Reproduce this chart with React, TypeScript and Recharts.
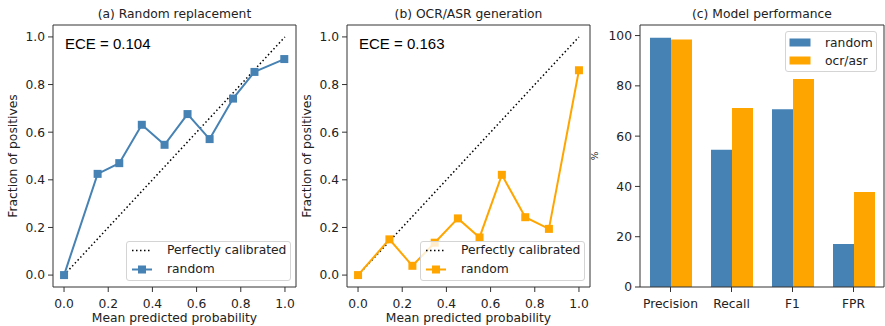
import {
  ComposedChart,
  Line,
  Bar,
  XAxis,
  YAxis,
  Label,
} from 'recharts';

const probTicks = [0, 0.2, 0.4, 0.6, 0.8, 1.0];
const diagonalPts = [0, 1];

const randomReplacementX = [0.0, 0.152, 0.25, 0.352, 0.455, 0.559, 0.659, 0.765, 0.862, 0.997];
const randomReplacementY = [0.0, 0.425, 0.47, 0.631, 0.547, 0.676, 0.571, 0.741, 0.853, 0.907];

const ocrAsrX = [0.0, 0.142, 0.246, 0.347, 0.452, 0.55, 0.651, 0.757, 0.864, 1.0];
const ocrAsrY = [0.0, 0.15, 0.039, 0.136, 0.238, 0.158, 0.421, 0.243, 0.194, 0.86];

const metrics = ['Precision', 'Recall', 'F1', 'FPR'];
const randomScores = [99.1, 54.6, 70.7, 17.1];
const ocrAsrScores = [98.4, 71.2, 82.7, 37.8];
const percentTicks = [0, 20, 40, 60, 80, 100];

const FONT = '"DejaVu Sans", sans-serif';
const TXT = '#222';
const FRAME = '#333';
const BLUE = '#4682B4';
const ORANGE = '#FFA500';
const FS = 12.3;

const tickStyle = { fill: TXT, fontSize: FS, fontFamily: FONT };

const squareDot = (color: string) => (props: any) => {
  if (props.cx == null || props.cy == null) return <g key={`e-${props.index}`} />;
  return (
    <rect
      key={`sq-${props.index}`}
      x={props.cx - 4}
      y={props.cy - 4}
      width={8}
      height={8}
      fill={color}
    />
  );
};

function CalibLegend({ color }: { color: string }) {
  const row = (top: number) => ({
    position: 'absolute' as const,
    left: 0,
    top,
    height: 19,
    display: 'flex',
    alignItems: 'center',
  });
  return (
    <div
      style={{
        position: 'absolute',
        left: 126,
        top: 241,
        width: 165,
        height: 40,
        boxSizing: 'border-box',
        border: '1px solid #d4d4d4',
        borderRadius: 3,
        background: 'rgba(255,255,255,0.8)',
        fontFamily: FONT,
        fontSize: FS,
        color: TXT,
      }}
    >
      <div style={row(-1.5)}>
        <svg width={40} height={19}>
          <line x1={5} x2={25} y1={9.5} y2={9.5} stroke="#000" strokeWidth={1.5} strokeDasharray="1.5 2.5" />
        </svg>
        <span>Perfectly calibrated</span>
      </div>
      <div style={row(17.5)}>
        <svg width={40} height={19}>
          <line x1={5} x2={25} y1={9.5} y2={9.5} stroke={color} strokeWidth={2} />
          <rect x={11} y={5.5} width={8} height={8} fill={color} />
        </svg>
        <span>random</span>
      </div>
    </div>
  );
}

function CalibrationPanel({
  left,
  title,
  ece,
  xs,
  ys,
  color,
}: {
  left: number;
  title: string;
  ece: string;
  xs: number[];
  ys: number[];
  color: string;
}) {
  const points = xs.map((x, i) => ({ x, y: ys[i] }));
  const diag = diagonalPts.map((v) => ({ x: v, y: v }));
  return (
    <div style={{ position: 'absolute', left, top: 0, width: 300, height: 326 }}>
      <div
        style={{
          position: 'absolute',
          left: 53,
          width: 243,
          top: 6,
          textAlign: 'center',
          fontFamily: FONT,
          fontSize: FS,
          lineHeight: '16px',
          color: TXT,
        }}
      >
        {title}
      </div>
      <ComposedChart
        width={300}
        height={326}
        margin={{ top: 24, right: 3, bottom: 0, left: 0 }}
        style={{ fontFamily: FONT }}
      >
        <XAxis
          xAxisId="b"
          type="number"
          dataKey="x"
          domain={[-0.05, 1.05]}
          allowDataOverflow
          ticks={probTicks}
          tickFormatter={(v: number) => v.toFixed(1)}
          height={39}
          tickSize={5}
          tickMargin={7}
          tick={tickStyle}
          axisLine={{ stroke: FRAME }}
          tickLine={{ stroke: FRAME }}
        >
          <Label
            value="Mean predicted probability"
            position="insideBottom"
            offset={4}
            style={{ fill: TXT, fontSize: FS, fontFamily: FONT }}
          />
        </XAxis>
        <XAxis
          xAxisId="t"
          orientation="top"
          type="number"
          dataKey="x"
          domain={[-0.05, 1.05]}
          allowDataOverflow
          height={1}
          tick={false}
          tickLine={false}
          axisLine={{ stroke: FRAME }}
        />
        <YAxis
          yAxisId="l"
          type="number"
          domain={[-0.05, 1.05]}
          allowDataOverflow
          ticks={probTicks}
          tickFormatter={(v: number) => v.toFixed(1)}
          width={53}
          tickSize={5}
          tickMargin={3}
          tick={tickStyle}
          axisLine={{ stroke: FRAME }}
          tickLine={{ stroke: FRAME }}
        >
          <Label
            value="Fraction of positives"
            angle={-90}
            position="insideLeft"
            offset={13}
            style={{ fill: TXT, fontSize: FS, fontFamily: FONT, textAnchor: 'middle' }}
          />
        </YAxis>
        <YAxis
          yAxisId="r"
          orientation="right"
          type="number"
          domain={[-0.05, 1.05]}
          allowDataOverflow
          width={1}
          tick={false}
          tickLine={false}
          axisLine={{ stroke: FRAME }}
        />
        <Line
          xAxisId="b"
          yAxisId="l"
          data={diag}
          dataKey="y"
          stroke="#000"
          strokeWidth={1.5}
          strokeDasharray="1.5 2.5"
          dot={false}
          activeDot={false}
          isAnimationActive={false}
        />
        <Line
          xAxisId="b"
          yAxisId="l"
          data={points}
          dataKey="y"
          stroke={color}
          strokeWidth={2}
          dot={squareDot(color)}
          activeDot={false}
          isAnimationActive={false}
        />
      </ComposedChart>
      <div
        style={{
          position: 'absolute',
          left: 65,
          top: 35,
          fontFamily: '"Liberation Sans", Arial, sans-serif',
          fontSize: 15,
          lineHeight: '17px',
          color: '#000',
        }}
      >
        {ece}
      </div>
      <CalibLegend color={color} />
    </div>
  );
}

function PerformancePanel() {
  const data = metrics.map((name, i) => ({
    name,
    random: randomScores[i],
    ocr: ocrAsrScores[i],
  }));
  return (
    <div style={{ position: 'absolute', left: 590, top: 0, width: 295, height: 326 }}>
      <div
        style={{
          position: 'absolute',
          left: 50,
          width: 244,
          top: 6,
          textAlign: 'center',
          fontFamily: FONT,
          fontSize: FS,
          lineHeight: '16px',
          color: TXT,
        }}
      >
        (c) Model performance
      </div>
      <ComposedChart
        width={295}
        height={326}
        data={data}
        margin={{ top: 24, right: 0, bottom: 0, left: 0 }}
        barGap={0}
        style={{ fontFamily: FONT }}
      >
        <XAxis
          xAxisId="b"
          dataKey="name"
          height={39}
          tickSize={5}
          tickMargin={7}
          tick={tickStyle}
          axisLine={{ stroke: FRAME }}
          tickLine={{ stroke: FRAME }}
        />
        <XAxis
          xAxisId="t"
          orientation="top"
          dataKey="name"
          height={1}
          tick={false}
          tickLine={false}
          axisLine={{ stroke: FRAME }}
        />
        <YAxis
          yAxisId="l"
          type="number"
          domain={[0, 104.2]}
          allowDataOverflow
          ticks={percentTicks}
          width={50}
          tickSize={5}
          tickMargin={3}
          tick={tickStyle}
          axisLine={{ stroke: FRAME }}
          tickLine={{ stroke: FRAME }}
        >
          <Label
            value="%"
            angle={-90}
            position="insideLeft"
            offset={5}
            style={{ fill: TXT, fontSize: 9, fontFamily: FONT, textAnchor: 'middle' }}
          />
        </YAxis>
        <YAxis
          yAxisId="r"
          orientation="right"
          type="number"
          domain={[0, 104.2]}
          allowDataOverflow
          width={1}
          tick={false}
          tickLine={false}
          axisLine={{ stroke: FRAME }}
        />
        <Bar xAxisId="b" yAxisId="l" dataKey="random" fill={BLUE} barSize={21} isAnimationActive={false} />
        <Bar xAxisId="b" yAxisId="l" dataKey="ocr" fill={ORANGE} barSize={21} isAnimationActive={false} />
      </ComposedChart>
      <div
        style={{
          position: 'absolute',
          left: 195,
          top: 31,
          width: 92,
          height: 41,
          boxSizing: 'border-box',
          border: '1px solid #d4d4d4',
          borderRadius: 3,
          background: 'rgba(255,255,255,0.8)',
          fontFamily: FONT,
          fontSize: FS,
          color: TXT,
        }}
      >
        {[
          { label: 'random', color: BLUE, top: 1 },
          { label: 'ocr/asr', color: ORANGE, top: 19 },
        ].map((r) => (
          <div
            key={r.label}
            style={{ position: 'absolute', left: 0, top: r.top, height: 19, display: 'flex', alignItems: 'center' }}
          >
            <svg width={39} height={19}>
              <rect x={3.5} y={5.5} width={21} height={8} fill={r.color} />
            </svg>
            <span>{r.label}</span>
          </div>
        ))}
      </div>
    </div>
  );
}

export default function App() {
  return (
    <div style={{ position: 'absolute', left: 0, top: 0, width: 885, height: 326, background: '#fff', overflow: 'hidden' }}>
      <CalibrationPanel
        left={0}
        title="(a) Random replacement"
        ece="ECE = 0.104"
        xs={randomReplacementX}
        ys={randomReplacementY}
        color={BLUE}
      />
      <CalibrationPanel
        left={294}
        title="(b) OCR/ASR generation"
        ece="ECE = 0.163"
        xs={ocrAsrX}
        ys={ocrAsrY}
        color={ORANGE}
      />
      <PerformancePanel />
    </div>
  );
}
